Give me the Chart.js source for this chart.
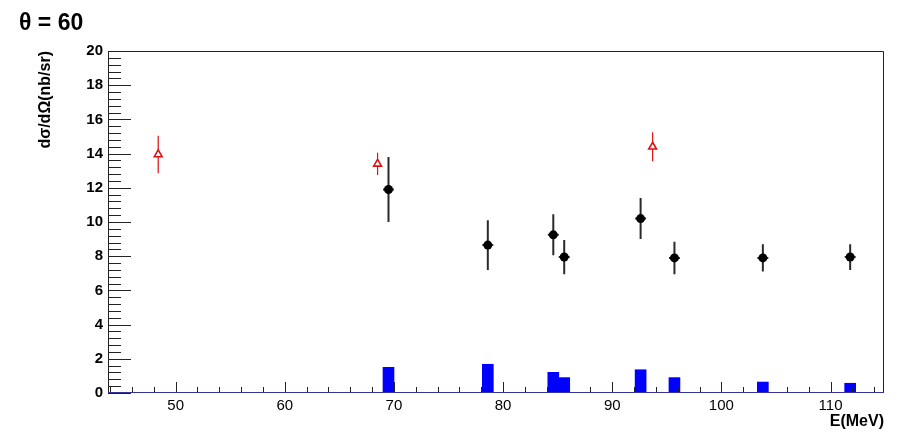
<!DOCTYPE html>
<html>
<head>
<meta charset="utf-8">
<script src="https://cdn.jsdelivr.net/npm/chart.js@4.4.1/dist/chart.umd.min.js"></script>
<style>
  html, body { margin: 0; padding: 0; background: #ffffff; }
  #wrap { width: 904px; height: 432px; position: relative; }
</style>
</head>
<body>
<div id="wrap"><canvas id="xsChart"></canvas></div>
<script>
// new measurement (black points) and its systematic error (blue bars)
const energies = [69.5, 78.6, 84.6, 85.6, 92.6, 95.7, 103.8, 111.8];
const crossSections = [11.9, 8.65, 9.25, 7.95, 10.2, 7.9, 7.9, 7.95];
const statErrors = [1.9, 1.45, 1.2, 1.0, 1.2, 0.95, 0.8, 0.75];
const systErrors = [1.5, 1.68, 1.21, 0.9, 1.36, 0.9, 0.64, 0.57];

// older data (red open triangles)
const oldEnergies = [48.4, 68.5, 93.7];
const oldCrossSections = [13.95, 13.4, 14.4];
const oldErrors = [1.1, 0.65, 0.85];

const xTickValues = [50, 60, 70, 80, 90, 100, 110];
const yTickValues = [0, 2, 4, 6, 8, 10, 12, 14, 16, 18, 20];
const xRange = [43.8, 114.9];
const yRange = [0, 20];

const FONT = "'Liberation Sans', Arial, Helvetica, sans-serif";

// vertical (and tiny horizontal) error bars under the markers
const errorBars = {
    id: 'errorBars',
    beforeDatasetsDraw(chart) {
        const ctx = chart.ctx;
        const xs = chart.scales.x, ys = chart.scales.y;
        chart.data.datasets.forEach(function (ds) {
            if (!ds.errors) return;
            ctx.save();
            ctx.strokeStyle = ds.errColor;
            ctx.lineWidth = ds.errWidth;
            ds.data.forEach(function (p, i) {
                const px = xs.getPixelForValue(p.x);
                ctx.beginPath();
                ctx.moveTo(px, ys.getPixelForValue(p.y - ds.errors[i]));
                ctx.lineTo(px, ys.getPixelForValue(p.y + ds.errors[i]));
                if (ds.xErr) {
                    const py = ys.getPixelForValue(p.y);
                    ctx.moveTo(xs.getPixelForValue(p.x - ds.xErr), py);
                    ctx.lineTo(xs.getPixelForValue(p.x + ds.xErr), py);
                }
                ctx.stroke();
            });
            ctx.restore();
        });
    }
};

// ROOT-like frame with ticks pointing inwards, plus the pad title
const rootFrame = {
    id: 'rootFrame',
    afterDraw(chart) {
        const ctx = chart.ctx;
        const a = chart.chartArea;
        const xs = chart.scales.x, ys = chart.scales.y;
        ctx.save();
        ctx.lineWidth = 1;
        ctx.strokeStyle = '#222222';
        ctx.beginPath();
        ctx.moveTo(a.left + 0.5, a.bottom);
        ctx.lineTo(a.left + 0.5, a.top + 0.5);
        ctx.lineTo(a.right - 0.5, a.top + 0.5);
        ctx.lineTo(a.right - 0.5, a.bottom);
        ctx.stroke();

        // y ticks: major every 2, minor every 0.4
        ctx.beginPath();
        for (let k = 0; k <= 50; k++) {
            const v = yRange[0] + k * 0.4;
            const py = Math.round(ys.getPixelForValue(v)) + 0.5;
            const len = (k % 5 === 0) ? 23 : 13;
            ctx.moveTo(a.left, py);
            ctx.lineTo(a.left + len, py);
        }
        // x ticks: major every 10, minor every 2
        for (let v = 44; v <= xRange[1]; v += 2) {
            const px = Math.round(xs.getPixelForValue(v)) + 0.5;
            const len = (v % 10 === 0) ? 11 : 6;
            ctx.moveTo(px, a.bottom);
            ctx.lineTo(px, a.bottom - len);
        }
        ctx.stroke();

        ctx.strokeStyle = '#33339a';
        ctx.beginPath();
        ctx.moveTo(a.left, a.bottom - 0.5);
        ctx.lineTo(a.right, a.bottom - 0.5);
        ctx.stroke();

        ctx.fillStyle = '#000000';
        ctx.font = 'bold 23px ' + FONT;
        ctx.textBaseline = 'alphabetic';
        ctx.textAlign = 'left';
        ctx.fillText('\u03b8 = 60', 19, 30);
        ctx.restore();
    }
};

const ctxXs = document.getElementById('xsChart');
new Chart(ctxXs, {
    type: 'scatter',
    data: {
        datasets: [
            {
                label: 'syst',
                type: 'bar',
                data: energies.map((e, i) => ({ x: e, y: systErrors[i] })),
                backgroundColor: '#0000ff',
                borderWidth: 0,
                barThickness: 11,
                grouped: false,
                order: 3
            },
            {
                label: 'new',
                data: energies.map((e, i) => ({ x: e, y: crossSections[i] })),
                errors: statErrors,
                errColor: '#2a2a2a',
                errWidth: 2,
                xErr: 0.5,
                pointStyle: 'circle',
                pointRadius: 4.5,
                backgroundColor: '#000000',
                borderColor: '#000000',
                borderWidth: 0,
                order: 1
            },
            {
                label: 'old',
                data: oldEnergies.map((e, i) => ({ x: e, y: oldCrossSections[i] })),
                errors: oldErrors,
                errColor: '#dd1111',
                errWidth: 1.2,
                pointStyle: 'triangle',
                pointRadius: 4.5,
                backgroundColor: '#ffffff',
                borderColor: '#dd1111',
                borderWidth: 1.6,
                order: 2
            }
        ]
    },
    options: {
        responsive: true,
        maintainAspectRatio: false,
        animation: false,
        layout: { padding: { top: 51, right: 20, bottom: 0, left: 0 } },
        plugins: {
            legend: { display: false },
            tooltip: { enabled: false },
            title: { display: false }
        },
        scales: {
            x: {
                type: 'linear',
                offset: false,
                min: xRange[0],
                max: xRange[1],
                afterBuildTicks: function (scale) {
                    scale.ticks = xTickValues.map(v => ({ value: v }));
                },
                afterFit: function (scale) { scale.height = 39; },
                grid: { display: false, drawTicks: false, offset: false },
                border: { display: false },
                ticks: {
                    padding: 4,
                    maxRotation: 0,
                    autoSkip: false,
                    color: '#000000',
                    font: { family: FONT, size: 15 },
                    callback: v => String(v)
                },
                title: {
                    display: true,
                    text: 'E(MeV)',
                    align: 'end',
                    color: '#000000',
                    font: { family: FONT, size: 16, weight: 'bold' },
                    padding: { top: 0, bottom: 1 }
                }
            },
            y: {
                type: 'linear',
                min: yRange[0],
                max: yRange[1],
                afterBuildTicks: function (scale) {
                    scale.ticks = yTickValues.map(v => ({ value: v }));
                },
                afterFit: function (scale) { scale.width = 108; },
                grid: { display: false, drawTicks: false },
                border: { display: false },
                ticks: {
                    padding: 5,
                    autoSkip: false,
                    color: '#000000',
                    font: { family: FONT, size: 15, weight: 'bold' },
                    callback: v => String(v)
                },
                title: {
                    display: true,
                    text: 'd\u03c3/d\u03a9(nb/sr)',
                    align: 'end',
                    color: '#000000',
                    font: { family: FONT, size: 16, weight: 'bold' },
                    padding: { top: 36, bottom: 0 }
                }
            }
        }
    },
    plugins: [errorBars, rootFrame]
});
</script>
</body>
</html>
